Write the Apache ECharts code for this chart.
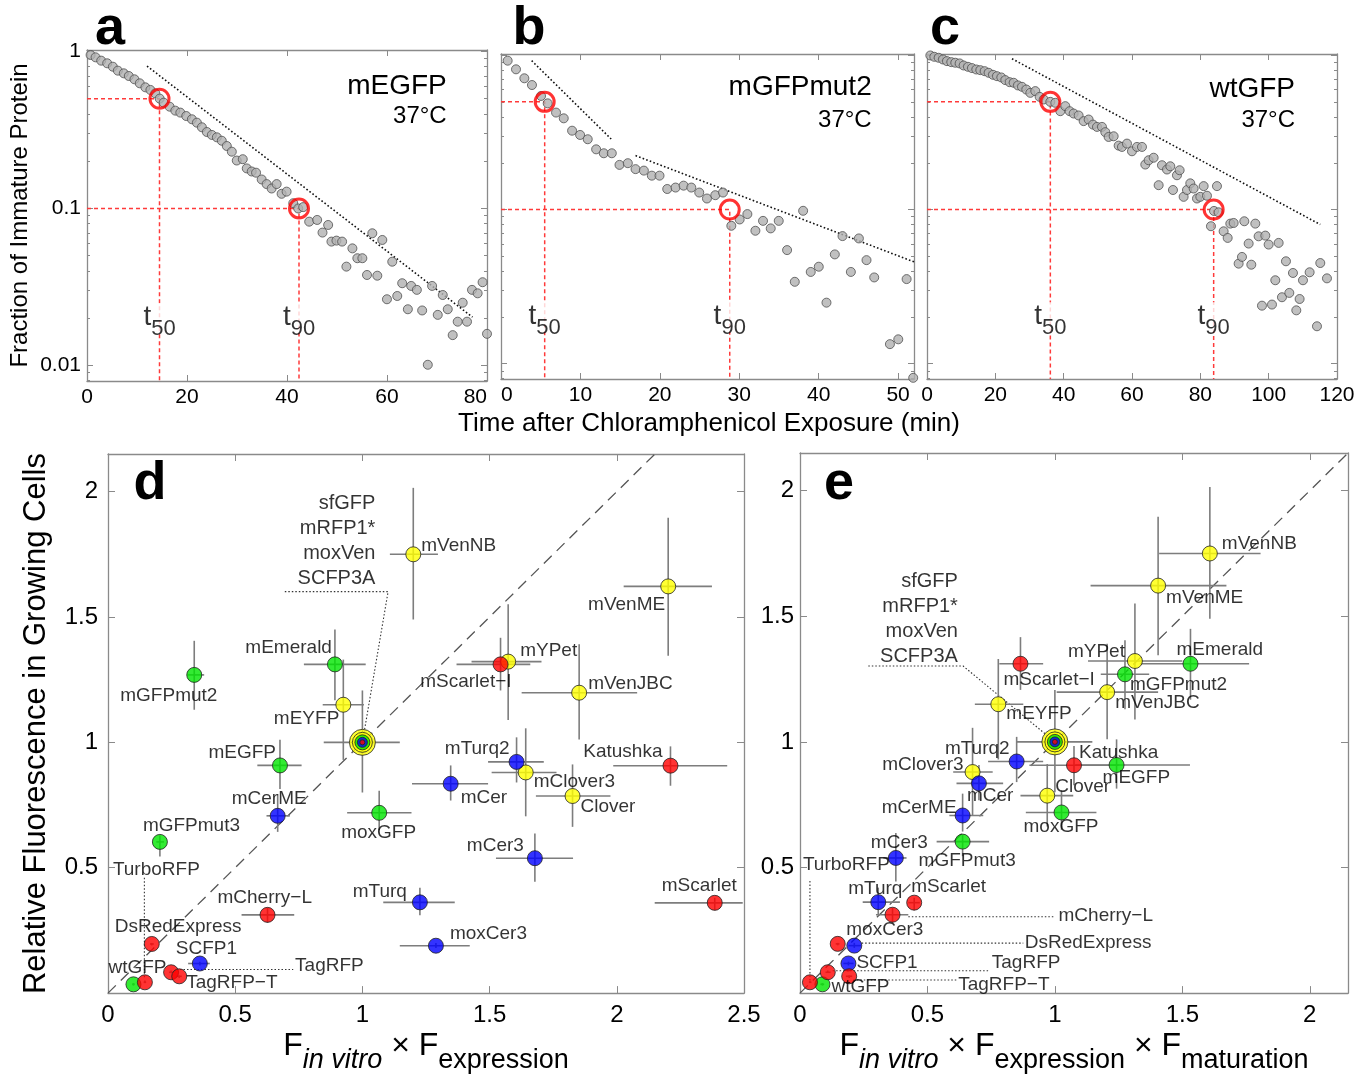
<!DOCTYPE html>
<html>
<head>
<meta charset="utf-8">
<script src="https://cdn.jsdelivr.net/npm/echarts@6/dist/echarts.min.js"></script>
<style>
  html, body { margin: 0; padding: 0; background: #fff; }
  #chart { width: 1366px; height: 1081px; }
</style>
</head>
<body>
<div id="chart"></div>
<script>
const FONT = '"Liberation Sans", Arial, Helvetica, sans-serif';
const AXIS_GRAY = '#8a8a8a';

// ---------- panels a-c : fraction of immature protein vs time (min) ----------
const aPoints = [[0.72,0.950],[1.71,0.918],[2.84,0.874],[4.04,0.841],[5.17,0.800],[6.17,0.755],[7.36,0.726],[8.36,0.698],[9.49,0.665],[10.55,0.627],[11.68,0.591],[12.68,0.569],[13.67,0.541],[14.54,0.501],[15.34,0.472],[16.53,0.445],[17.66,0.420],[18.66,0.408],[19.85,0.388],[20.98,0.370],[21.98,0.352],[22.98,0.329],[23.97,0.307],[24.97,0.294],[25.97,0.284],[26.96,0.270],[27.96,0.250],[28.96,0.230],[29.95,0.202],[31.15,0.206],[31.95,0.180],[32.94,0.172],[33.81,0.169],[34.94,0.153],[35.93,0.143],[36.93,0.134],[37.93,0.143],[38.92,0.124],[39.92,0.128],[41.25,0.108],[42.24,0.100],[43.24,0.102],[44.44,0.0824],[46.03,0.0845],[47.1,0.0702],[48.23,0.0785],[48.89,0.0615],[49.89,0.0624],[51.02,0.0615],[51.88,0.0426],[53.08,0.0557],[54.07,0.0482],[55.07,0.0482],[56.0,0.0377],[57.06,0.0695],[58.06,0.0373],[59.06,0.0630],[59.99,0.0264],[61.05,0.0458],[62.05,0.0277],[63.04,0.0334],[64.17,0.0228],[64.84,0.0321],[65.97,0.0303],[67.03,0.0224],[68.16,0.0101],[69.02,0.0321],[70.15,0.0210],[71.15,0.0281],[72.15,0.0228],[73.14,0.0156],[74.14,0.0190],[75.14,0.0251],[76.0,0.0190],[77.0,0.0303],[78.13,0.0288],[79.12,0.0339],[80.0,0.0159]];
const bPoints = [[0.84,0.925],[1.89,0.813],[2.94,0.711],[3.90,0.643],[5.04,0.546],[5.88,0.489],[6.93,0.426],[7.90,0.391],[8.95,0.325],[9.96,0.305],[10.92,0.286],[11.98,0.246],[12.94,0.232],[13.95,0.232],[14.92,0.195],[15.97,0.200],[16.94,0.183],[17.99,0.179],[18.99,0.166],[19.96,0.166],[20.93,0.136],[21.98,0.139],[22.99,0.143],[23.96,0.139],[24.96,0.129],[25.93,0.118],[26.98,0.124],[27.95,0.129],[29.0,0.0785],[30.05,0.0863],[31.02,0.0935],[32.03,0.0729],[32.99,0.0845],[33.96,0.0755],[34.97,0.0845],[36.02,0.0546],[36.99,0.0340],[38.04,0.0982],[39.0,0.0394],[40.01,0.0426],[40.98,0.0249],[42.03,0.0512],[43.0,0.0673],[44.05,0.0394],[45.06,0.0650],[46.02,0.0470],[46.99,0.0363],[48.97,0.0134],[50.02,0.0144],[51.07,0.0354],[51.9,0.0081]];
const cPoints = [[0.97,1.0],[2.14,0.980],[3.41,0.966],[4.67,0.942],[5.84,0.919],[7.11,0.905],[8.28,0.897],[9.55,0.888],[10.72,0.861],[11.99,0.844],[13.16,0.828],[14.43,0.811],[15.6,0.803],[16.87,0.791],[18.04,0.772],[19.31,0.749],[20.48,0.734],[21.75,0.720],[22.92,0.692],[24.19,0.671],[25.36,0.665],[26.63,0.639],[27.8,0.626],[29.06,0.601],[30.24,0.572],[31.7,0.587],[32.97,0.539],[34.14,0.518],[36.09,0.500],[37.55,0.493],[39.02,0.435],[40.48,0.469],[41.75,0.435],[42.92,0.420],[44.38,0.408],[45.85,0.375],[47.31,0.384],[48.58,0.356],[49.75,0.344],[51.21,0.344],[52.19,0.318],[53.16,0.296],[54.63,0.299],[56.09,0.260],[57.06,0.255],[58.53,0.268],[59.99,0.239],[61.45,0.255],[62.92,0.255],[63.89,0.196],[64.87,0.209],[66.33,0.217],[67.8,0.144],[68.77,0.194],[70.24,0.182],[71.21,0.191],[71.99,0.134],[73.16,0.167],[73.94,0.180],[75.11,0.121],[76.09,0.134],[77.06,0.148],[78.04,0.137],[79.02,0.118],[79.99,0.121],[80.97,0.142],[81.94,0.123],[83.11,0.078],[84.0,0.098],[84.87,0.142],[85.36,0.096],[86.82,0.0723],[88.0,0.0655],[88.77,0.0811],[89.75,0.0819],[91.21,0.0446],[92.19,0.0493],[92.87,0.084],[94.14,0.0602],[94.92,0.0439],[96.09,0.0811],[97.06,0.0671],[98.04,0.0238],[99.02,0.0678],[99.99,0.0593],[100.97,0.0242],[101.94,0.0348],[102.92,0.0608],[103.89,0.0270],[105.06,0.0462],[106.04,0.0288],[107.11,0.0388],[108.09,0.0222],[109.06,0.0263],[110.04,0.0348],[111.99,0.0392],[114.14,0.0175],[115.11,0.0450],[117.06,0.0358]];

const aFit = [[12.0, 0.808], [77.1, 0.0203]];
const bFit1 = [[3.86, 0.925], [13.87, 0.287]];
const bFit2 = [[16.94, 0.224], [52.0, 0.0458]];
const cFit = [[24.87, 0.952], [115.1, 0.080]];

const topProteins = ['mEGFP', 'mGFPmut2', 'wtGFP'];
const topPoints = [aPoints, bPoints, cPoints];
const topFits = [[aFit], [bFit1, bFit2], [cFit]];
const t50 = [14.5, 5.5, 36.1];
const t90 = [42.4, 28.8, 83.9];
const topXMax = [80, 52, 120];
const topXStep = [20, 10, 20];
const topXAlign = [[null, 'right'], ['left', null], [null, null]];
const fracMin = 0.00796, fracMax = 1.022;
const tLabelFrac = 0.02;

// ---------- panels d,e : relative fluorescence ----------
const fpNames = ['mVenNB','mVenME','mYPet','mScarlet\u2212I','mEmerald','mGFPmut2','mVenJBC','mEYFP','mEGFP','Katushka','mTurq2','mClover3','mCer','Clover','moxGFP','mCerME','mGFPmut3','mCer3','mTurq','mScarlet','mCherry\u2212L','moxCer3','DsRedExpress','SCFP1','TagRFP','TagRFP\u2212T','TurboRFP','wtGFP'];
const fpClass = ['Y','Y','Y','R','G','G','Y','Y','G','R','B','Y','B','Y','G','B','G','B','B','R','R','B','R','B','R','R','R','G'];
const fpY   = [1.75,1.622,1.322,1.311,1.311,1.269,1.198,1.15,0.908,0.907,0.922,0.88,0.835,0.786,0.719,0.707,0.603,0.538,0.362,0.36,0.312,0.189,0.196,0.118,0.083,0.067,0.043,0.035];
const fpYlo = [1.49,1.345,1.089,1.207,1.168,1.13,1.011,0.93,0.814,0.827,0.84,0.705,0.768,0.663,0.65,0.643,0.545,0.444,0.31,0.33,0.28,0.18,0.19,0.11,0.08,0.06,0.04,0.03];
const fpYhi = [2.015,1.896,1.551,1.417,1.45,1.405,1.391,1.33,1.01,0.984,1.02,1.056,0.908,0.912,0.807,0.794,0.63,0.637,0.42,0.38,0.34,0.2,0.2,0.125,0.09,0.07,0.05,0.04];

const dX   = [1.20,2.202,1.573,1.543,0.892,0.339,1.852,0.925,0.676,2.211,1.606,1.642,1.347,1.826,1.066,0.667,0.204,1.678,1.226,2.385,0.627,1.289,0.172,0.361,0.248,0.280,0.145,0.10];
const dXlo = [1.108,2.027,1.429,1.37,0.770,0.312,1.626,0.844,0.587,1.986,1.494,1.508,1.195,1.682,0.940,0.623,0.19,1.525,1.082,2.149,0.525,1.147,0.165,0.315,0.24,0.27,0.14,0.095];
const dXhi = [1.297,2.374,1.704,1.66,1.013,0.378,2.080,1.006,0.761,2.434,1.713,1.763,1.494,1.975,1.193,0.715,0.22,1.828,1.363,2.495,0.732,1.422,0.18,0.40,0.255,0.29,0.15,0.105];

const eX   = [1.608,1.405,1.314,0.865,1.532,1.275,1.205,0.778,1.242,1.075,0.850,0.677,0.702,0.970,1.026,0.638,0.638,0.376,0.307,0.448,0.363,0.213,0.148,0.190,0.109,0.193,0.039,0.088];
const eXlo = [1.409,1.14,1.13,0.782,1.333,1.18,1.007,0.686,1.08,0.90,0.738,0.601,0.614,0.865,0.886,0.586,0.536,0.327,0.246,0.425,0.298,0.19,0.14,0.17,0.10,0.18,0.035,0.08];
const eXhi = [1.807,1.673,1.50,0.954,1.762,1.37,1.405,0.876,1.53,1.25,0.954,0.756,0.797,1.072,1.163,0.719,0.742,0.418,0.392,0.47,0.425,0.24,0.155,0.21,0.12,0.205,0.045,0.095];

// reference proteins (sfGFP, mRFP1*, moxVen, SCFP3A) normalised to 1
const refXY = [1, 1];
const refXerr = [0.848, 1.147];
const refYerr = [0.80, 1.207];
const refNames = 'sfGFP\nmRFP1*\nmoxVen\nSCFP3A';

const identityLine = [[0, 0], [2.15, 2.15]];
const dLeaders = [
  [[0.695, 1.601], [1.101, 1.601], [1.0, 1.0]],
  [[0.143, 0.46], [0.143, 0.06]],
  [[0.283, 0.094], [0.728, 0.094]]
];
const eLeaders = [
  [[0.268, 1.302], [0.640, 1.302], [1.0, 1.0]],
  [[0.039, 0.446], [0.039, 0.052]],
  [[0.425, 0.304], [1.0, 0.304]],
  [[0.242, 0.199], [0.876, 0.199]],
  [[0.128, 0.089], [0.738, 0.089]],
  [[0.209, 0.052], [0.615, 0.052]]
];

// label placement (align, dx, dy in px from the marker)
const dLabelPos = {
  'mVenNB':['left',8,-9], 'mVenME':['right',-3,18], 'mYPet':['left',12,-11], 'mScarlet\u2212I':['right',11,17],
  'mEmerald':['right',-3,-17], 'mGFPmut2':['left',-74,21], 'mVenJBC':['left',9,-9], 'mEYFP':['right',-4,14],
  'mEGFP':['right',-4,-13], 'Katushka':['right',-8,-14], 'mTurq2':['right',-7,-13], 'mClover3':['left',8,9],
  'mCer':['left',10,14], 'Clover':['left',8,11], 'moxGFP':['left',-38,20], 'mCerME':['right',29,-17],
  'mGFPmut3':['left',-17,-16], 'mCer3':['right',-11,-12], 'mTurq':['right',-13,-11], 'mScarlet':['right',22,-17],
  'mCherry\u2212L':['left',-50,-17], 'moxCer3':['left',14,-12], 'DsRedExpress':['left',-37,-17], 'SCFP1':['left',-24,-15],
  'TagRFP':['left',124,-7], 'TagRFP\u2212T':['left',7,6], 'TurboRFP':['left',-32,-113], 'wtGFP':['left',-25,-17]
};
const eLabelPos = {
  'mVenNB':['left',12,-10], 'mVenME':['left',8,12], 'mYPet':['right',-10,-9], 'mScarlet\u2212I':['left',-17,16],
  'mEmerald':['left',-14,-14], 'mGFPmut2':['left',5,10], 'mVenJBC':['left',8,11], 'mEYFP':['left',8,10],
  'mEGFP':['left',-14,13], 'Katushka':['left',5,-12], 'mTurq2':['right',-7,-13], 'mClover3':['right',-9,-7],
  'mCer':['left',-12,12], 'Clover':['left',8,-9], 'moxGFP':['left',-38,14], 'mCerME':['right',-6,-8],
  'mGFPmut3':['left',-44,19], 'mCer3':['right',32,-15], 'mTurq':['left',-30,-13], 'mScarlet':['left',-3,-16],
  'mCherry\u2212L':['left',166,1], 'moxCer3':['left',-8,-16], 'DsRedExpress':['left',187,-1], 'SCFP1':['left',8,-1],
  'TagRFP':['left',164,-9], 'TagRFP\u2212T':['left',109,8], 'TurboRFP':['left',-7,-118], 'wtGFP':['left',9,2]
};
const classColor = { Y: '#ffff00', G: '#00e600', B: '#0000ff', R: '#ff0000' };

const dom = document.getElementById('chart');
const chart = echarts.init(dom);

const grids = [
  { left: 87, top: 50, width: 400, height: 331 },
  { left: 501, top: 54, width: 413, height: 325 },
  { left: 927, top: 54, width: 410, height: 325 },
  { left: 108, top: 454, width: 636, height: 546 },
  { left: 800, top: 453, width: 548, height: 547 }
];

function isDecade(v) {
  const l = Math.log10(v);
  return Math.abs(l - Math.round(l)) < 1e-6;
}
function onStep(v, step) {
  const k = v / step;
  return Math.abs(k - Math.round(k)) < 1e-6;
}

const axisLine = { show: true, onZero: false, lineStyle: { color: AXIS_GRAY, width: 1.3 } };
const xAxes = [], yAxes = [];

for (let i = 0; i < 3; i++) {
  const base = {
    type: 'value', gridIndex: i, min: 0, max: topXMax[i], interval: topXStep[i],
    axisLine, splitLine: { show: false },
    axisTick: { show: true, inside: true, length: 6, lineStyle: { color: AXIS_GRAY } }
  };
  const lab = { show: true, color: '#000', fontSize: 21, fontFamily: FONT, margin: 6,
    showMinLabel: true, showMaxLabel: true,
    formatter: (v) => (onStep(v, topXStep[i]) ? String(v) : '') };
  if (topXAlign[i][0]) lab.alignMinLabel = topXAlign[i][0];
  if (topXAlign[i][1]) lab.alignMaxLabel = topXAlign[i][1];
  xAxes.push(Object.assign({}, base, { position: 'bottom', axisLabel: lab }));
  xAxes.push(Object.assign({}, base, { position: 'top', axisLabel: { show: false } }));

  const ybase = {
    type: 'log', logBase: 10, gridIndex: i, min: fracMin, max: fracMax,
    axisLine, splitLine: { show: false },
    axisTick: { show: true, inside: true, length: 6, lineStyle: { color: AXIS_GRAY } },
    minorTick: { show: true, splitNumber: 9, length: 3, lineStyle: { color: AXIS_GRAY } }
  };
  yAxes.push(Object.assign({}, ybase, {
    position: 'left',
    axisLabel: { show: i === 0, color: '#000', fontSize: 21, fontFamily: FONT, margin: 6,
      showMinLabel: true, showMaxLabel: true,
      formatter: (v) => (isDecade(v) ? String(+v.toPrecision(3)) : '') },
    name: i === 0 ? 'Fraction of Immature Protein' : '',
    nameLocation: 'middle', nameRotate: 90, nameGap: 55,
    nameTextStyle: { fontSize: 24, fontFamily: FONT, color: '#000' }
  }));
  yAxes.push(Object.assign({}, ybase, { position: 'right', axisLabel: { show: false } }));
}

const subRich = {
  f: { fontSize: 32, fontFamily: FONT, color: '#000', lineHeight: 40, verticalAlign: 'top' },
  s: { fontSize: 27, fontFamily: FONT, fontStyle: 'italic', color: '#000', lineHeight: 26, padding: [17, 0, 0, 0], verticalAlign: 'top' },
  s2: { fontSize: 27, fontFamily: FONT, color: '#000', lineHeight: 26, padding: [17, 0, 0, 0], verticalAlign: 'top' }
};
const fpXNames = [
  '{f|F}{s|in vitro}{f| \u00d7 F}{s2|expression}',
  '{f|F}{s|in vitro}{f| \u00d7 F}{s2|expression}{f| \u00d7 F}{s2|maturation}'
];
const fpXMax = [2.5, 2.15];
const fpYLabelMargin = [10, 6];

for (let k = 0; k < 2; k++) {
  const gi = 3 + k;
  const base = {
    type: 'value', gridIndex: gi, min: 0, max: fpXMax[k], interval: 0.5,
    axisLine, splitLine: { show: false },
    axisTick: { show: true, inside: true, length: 7, lineStyle: { color: AXIS_GRAY } }
  };
  xAxes.push(Object.assign({}, base, {
    position: 'bottom',
    axisLabel: { show: true, color: '#000', fontSize: 24, fontFamily: FONT, margin: 10,
      showMinLabel: true, showMaxLabel: true,
      formatter: (v) => (onStep(v, 0.5) ? String(v) : '') },
    name: fpXNames[k], nameLocation: 'middle', nameGap: 37,
    nameTextStyle: { rich: subRich }
  }));
  xAxes.push(Object.assign({}, base, { position: 'top', axisLabel: { show: false } }));

  const ybase = {
    type: 'value', gridIndex: gi, min: 0, max: 2.15, interval: 0.5,
    axisLine, splitLine: { show: false },
    axisTick: { show: true, inside: true, length: 7, lineStyle: { color: AXIS_GRAY } }
  };
  yAxes.push(Object.assign({}, ybase, {
    position: 'left',
    axisLabel: { show: true, color: '#000', fontSize: 24, fontFamily: FONT, margin: fpYLabelMargin[k],
      showMinLabel: true, showMaxLabel: true,
      formatter: (v) => (v > 0 && onStep(v, 0.5) ? String(v) : '') },
    name: k === 0 ? 'Relative Fluorescence in Growing Cells' : '',
    nameLocation: 'middle', nameRotate: 90, nameGap: 56,
    nameTextStyle: { fontSize: 31, fontFamily: FONT, color: '#000' }
  }));
  yAxes.push(Object.assign({}, ybase, { position: 'right', axisLabel: { show: false } }));
}

const series = [];

// ---- top panels
for (let i = 0; i < 3; i++) {
  const ax = { xAxisIndex: 2 * i, yAxisIndex: 2 * i };
  const dashed = { color: '#ff3a3a', width: 1.5, type: [4, 3] };
  series.push(Object.assign({ type: 'line', symbol: 'none', silent: true, z: 1,
    data: [[0, 0.5], [t50[i], 0.5], [t50[i], fracMin]], lineStyle: dashed }, ax));
  series.push(Object.assign({ type: 'line', symbol: 'none', silent: true, z: 1,
    data: [[0, 0.1], [t90[i], 0.1], [t90[i], fracMin]], lineStyle: dashed }, ax));
  topFits[i].forEach((seg) => {
    series.push(Object.assign({ type: 'line', symbol: 'none', silent: true, z: 2, data: seg,
      lineStyle: { color: '#111', width: 1.6, type: [1.6, 2.2] } }, ax));
  });
  series.push(Object.assign({ type: 'scatter', symbolSize: 9, z: 3, silent: true, data: topPoints[i],
    itemStyle: { color: '#b0b0b0', borderColor: '#505050', borderWidth: 1 } }, ax));
  series.push(Object.assign({ type: 'scatter', symbolSize: 19, z: 4, silent: true,
    data: [[t50[i], 0.5], [t90[i], 0.1]],
    itemStyle: { color: 'rgba(255,255,255,0)', borderColor: '#ff0000', borderWidth: 3 } }, ax));
  series.push(Object.assign({ type: 'scatter', symbolSize: 1, z: 5, silent: true,
    itemStyle: { color: 'rgba(0,0,0,0)' },
    data: [{ value: [t50[i], tLabelFrac], name: '50' }, { value: [t90[i], tLabelFrac], name: '90' }],
    label: {
      show: true, position: 'inside', formatter: '{t|t}{s|{b}}', backgroundColor: '#fff', padding: [0, 1],
      rich: {
        t: { fontSize: 28, fontFamily: FONT, color: '#000', lineHeight: 30, verticalAlign: 'top' },
        s: { fontSize: 22, fontFamily: FONT, color: '#000', lineHeight: 22, padding: [15, 0, 0, 0], verticalAlign: 'top' }
      }
    } }, ax));
}

// ---- d / e
function errorBarItem(params, api) {
  const x = api.value(0), y = api.value(1);
  const h1 = api.coord([api.value(2), y]), h2 = api.coord([api.value(3), y]);
  const v1 = api.coord([x, api.value(4)]), v2 = api.coord([x, api.value(5)]);
  const style = { stroke: '#7d7d7d', lineWidth: 1.6 };
  return {
    type: 'group',
    children: [
      { type: 'line', shape: { x1: h1[0], y1: h1[1], x2: h2[0], y2: h2[1] }, style },
      { type: 'line', shape: { x1: v1[0], y1: v1[1], x2: v2[0], y2: v2[1] }, style }
    ]
  };
}

function addFpPanel(gi, xs, xlo, xhi, layout, leaders, refLabelOffset) {
  const ax = { xAxisIndex: 2 * gi, yAxisIndex: 2 * gi };
  series.push(Object.assign({ type: 'line', symbol: 'none', silent: true, z: 1, data: identityLine,
    lineStyle: { color: '#555', width: 1.3, type: [11, 7] } }, ax));
  leaders.forEach((seg) => {
    series.push(Object.assign({ type: 'line', symbol: 'none', silent: true, z: 1, data: seg,
      lineStyle: { color: '#333', width: 1.1, type: [1.5, 2] } }, ax));
  });
  const bars = fpNames.map((n, i) => [xs[i], fpY[i], xlo[i], xhi[i], fpYlo[i], fpYhi[i]]);
  bars.push([refXY[0], refXY[1], refXerr[0], refXerr[1], refYerr[0], refYerr[1]]);
  series.push(Object.assign({ type: 'custom', coordinateSystem: 'cartesian2d', silent: true, z: 2,
    renderItem: errorBarItem, data: bars, encode: { x: 0, y: 1 } }, ax));

  Object.keys(classColor).forEach((cls) => {
    const items = [];
    fpNames.forEach((n, i) => {
      if (fpClass[i] !== cls) return;
      const p = layout[n];
      items.push({ value: [xs[i], fpY[i]], name: n,
        label: { show: true, position: 'inside', align: p[0], verticalAlign: 'middle', offset: [p[1], p[2]] } });
    });
    series.push(Object.assign({ type: 'scatter', symbolSize: 15, z: 4, silent: true, data: items,
      itemStyle: { color: classColor[cls], borderColor: '#222', borderWidth: 1 },
      label: { color: '#000', fontSize: 19, fontFamily: FONT, formatter: '{b}', textBorderWidth: 0 } }, ax));
  });

  const rings = [[26, 'Y'], [20, 'Y'], [15, 'G'], [10, 'B'], [5, 'R']];
  rings.forEach((r, k) => {
    const item = { value: refXY.slice(), name: refNames };
    if (k === 0) {
      item.label = { show: true, position: 'inside', align: 'right', verticalAlign: 'middle',
        offset: refLabelOffset, color: '#000', fontSize: 20, lineHeight: 25, fontFamily: FONT,
        formatter: '{b}', textBorderWidth: 0 };
    }
    series.push(Object.assign({ type: 'scatter', symbolSize: r[0], z: 5 + k, silent: true, data: [item],
      itemStyle: { color: classColor[r[1]], borderColor: '#222', borderWidth: 1 } }, ax));
  });
}

addFpPanel(3, dX, dXlo, dXhi, dLabelPos, dLeaders, [13, -201]);
addFpPanel(4, eX, eXlo, eXhi, eLabelPos, eLeaders, [-97, -123]);

// ---- free text
function txt(text, x, y, size, align, extra) {
  return {
    type: 'text', silent: true, z: 50,
    style: Object.assign({ text, x, y, fill: '#000', fontSize: size, fontFamily: FONT,
      textAlign: align, textVerticalAlign: 'middle', align, verticalAlign: 'middle' }, extra || {})
  };
}
const topTitlePos = [[446.7, 86, 116], [871.7, 87, 120], [1295, 89, 120]];
const graphics = [];
topProteins.forEach((p, i) => {
  graphics.push(txt(p, topTitlePos[i][0], topTitlePos[i][1], 28, 'right'));
  graphics.push(txt('37\u00b0C', topTitlePos[i][0], topTitlePos[i][2], 24, 'right'));
});
const panelLetters = [['a', 110, 29], ['b', 529, 29], ['c', 945, 29], ['d', 150, 484], ['e', 839, 484]];
panelLetters.forEach((l) => graphics.push(txt(l[0], l[1], l[2], 54, 'center', { fontWeight: 'bold' })));
graphics.push(txt('Time after Chloramphenicol Exposure (min)', 709, 424, 26, 'center'));

chart.setOption({
  animation: false,
  backgroundColor: '#fff',
  textStyle: { fontFamily: FONT },
  grid: grids,
  xAxis: xAxes,
  yAxis: yAxes,
  series,
  graphic: graphics
});
</script>
</body>
</html>
